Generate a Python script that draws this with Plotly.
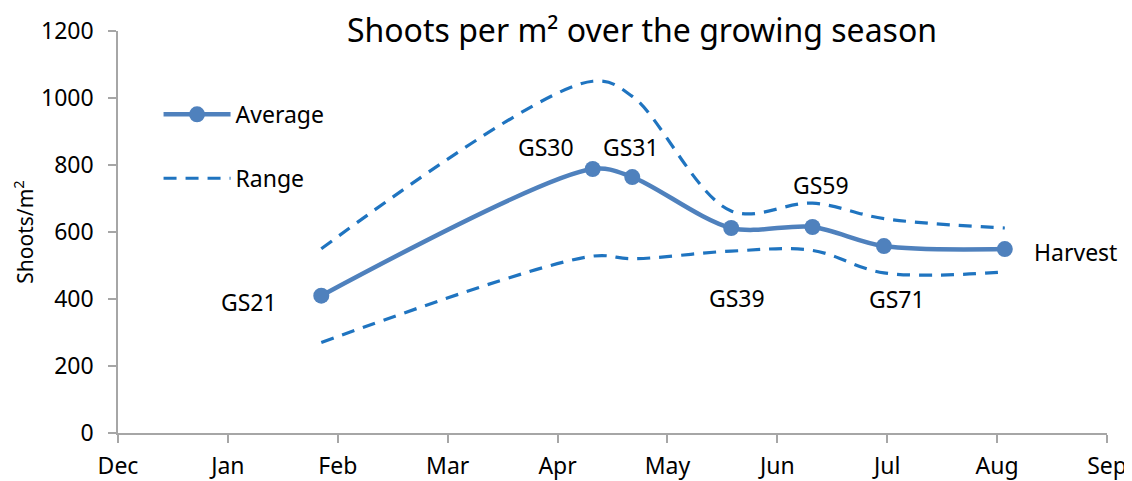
import plotly.graph_objects as go

# Data
month_labels = ["Dec", "Jan", "Feb", "Mar", "Apr", "May", "Jun", "Jul", "Aug", "Sep"]
month_pos = list(range(len(month_labels)))
stages = ["GS21", "GS30", "GS31", "GS39", "GS59", "GS71", "Harvest"]
stage_x = [1.85, 4.32, 4.68, 5.58, 6.32, 6.97, 8.07]
average = [410, 788, 764, 612, 615, 558, 549]
range_upper = [550, 1050, 1005, 663, 686, 640, 612]
range_lower = [270, 528, 520, 543, 545, 478, 481]

# label offsets (px) relative to points
label_dx = [-72, -47, -1, 6, 8, 13, 71]
label_dy = [-6, 22, 30, -70, 42, -53, -3]

FONT = "Noto Sans"
AVG_COLOR = "#4F81BD"
RANGE_COLOR = "#1F74C0"

# The page body has an 8px margin, so the figure is sized to fit inside it.
W, H = 1124, 473

fig = go.Figure()
fig.add_trace(go.Scatter(
    x=stage_x, y=average, mode="lines+markers", name="Average",
    line=dict(color=AVG_COLOR, width=4.5, shape="spline", smoothing=0.9),
    marker=dict(size=16, color=AVG_COLOR), legendgroup="avg",
))
fig.add_trace(go.Scatter(
    x=stage_x, y=range_upper, mode="lines", name="Range",
    line=dict(color=RANGE_COLOR, width=3.2, dash="13px,9px", shape="spline", smoothing=1.0),
    legendgroup="range",
))
fig.add_trace(go.Scatter(
    x=stage_x, y=range_lower, mode="lines", name="Range", showlegend=False,
    line=dict(color=RANGE_COLOR, width=3.2, dash="13px,9px", shape="spline", smoothing=1.0),
    legendgroup="range",
))

annotations = []
for s, x, y, dx, dy in zip(stages, stage_x, average, label_dx, label_dy):
    annotations.append(dict(
        x=x, y=y, xref="x", yref="y", text=s, showarrow=False,
        xshift=dx, yshift=dy, font=dict(family=FONT, size=23, color="#000000"),
    ))

fig.update_layout(
    width=W, height=H,
    margin=dict(l=110, r=25, t=23, b=48),
    paper_bgcolor="white", plot_bgcolor="white",
    font=dict(family=FONT, size=23, color="#000000"),
    title=dict(text="Shoots per m² over the growing season",
               x=(642 - 8) / W, xanchor="center", y=1 - (31 - 8) / H, yanchor="middle",
               font=dict(family=FONT, size=32, color="#000000")),
    xaxis=dict(range=[0, 9], tickvals=month_pos, ticktext=month_labels,
               showgrid=False, zeroline=False, showline=True, linecolor="#A6A6A6",
               linewidth=1.5, ticks="outside", ticklen=8, tickcolor="#A6A6A6",
               tickwidth=1.5, tickfont=dict(size=23), automargin=False,
               ticklabelstandoff=4),
    yaxis=dict(range=[0, 1200], tickvals=[0, 200, 400, 600, 800, 1000, 1200],
               showgrid=False, zeroline=False, showline=True, linecolor="#A6A6A6",
               linewidth=1.5, ticks="outside", ticklen=8, tickcolor="#A6A6A6",
               tickwidth=1.5, tickfont=dict(size=23), automargin=False,
               ticklabelstandoff=10,
               title=dict(text="Shoots/m<sup>2</sup>", font=dict(size=21), standoff=10)),
    legend=dict(x=0.041, y=0.846, xanchor="left", yanchor="top",
                bgcolor="rgba(0,0,0,0)", itemwidth=67, tracegroupgap=31,
                traceorder="grouped", font=dict(size=23)),
    annotations=annotations,
)

fig.write_html("out.html")
